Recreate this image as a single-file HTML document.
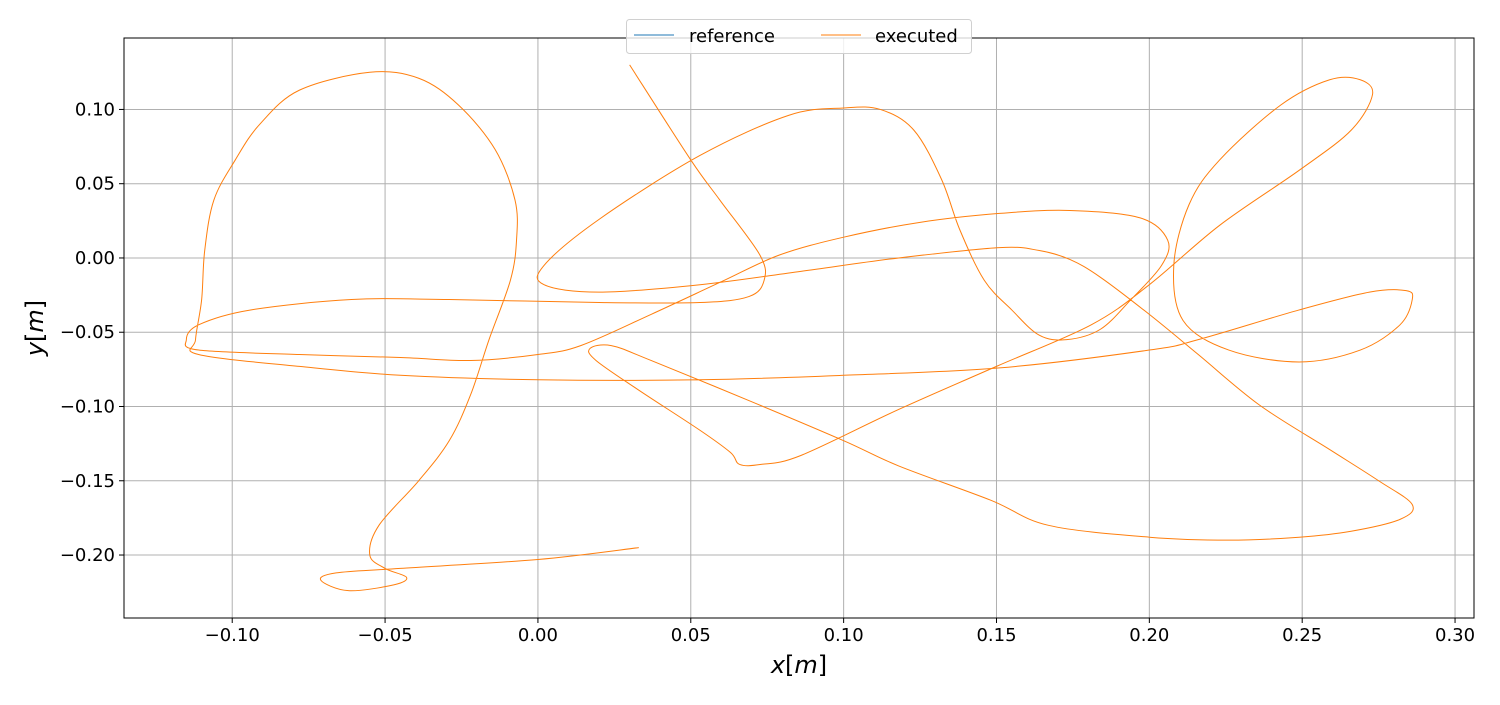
<!DOCTYPE html>
<html><head><meta charset="utf-8"><style>
body{margin:0;background:#fff;}
svg text{font-family:"DejaVu Sans","Liberation Sans",sans-serif;}
</style></head><body>
<svg id="chart" width="1500" height="700" xmlns="http://www.w3.org/2000/svg"></svg>
<script>
const xTicks=[-0.10,-0.05,0.00,0.05,0.10,0.15,0.20,0.25,0.30];
const yTicks=[0.10,0.05,0.00,-0.05,-0.10,-0.15,-0.20];
const xTickLabels=["−0.10","−0.05","0.00","0.05","0.10","0.15","0.20","0.25","0.30"];
const yTickLabels=["0.10","0.05","0.00","−0.05","−0.10","−0.15","−0.20"];
const execX=[0.030,0.050,0.0595,0.0726,0.074,0.069,0.053,0.020,-0.029,-0.061,-0.094,-0.111,-0.115,-0.111,-0.078,-0.045,-0.022,0,0.014,0.037,0.060,0.079,0.100,0.125,0.151,0.174,0.197,0.206,0.204,0.194,0.184,0.173,0.164,0.155,0.146,0.138,0.132,0.123,0.112,0.100,0.082,0.053,0.020,0.002,0.002,0.020,0.053,0.086,0.118,0.151,0.164,0.174,0.184,0.200,0.216,0.236,0.259,0.275,0.286,0.282,0.266,0.249,0.226,0.200,0.167,0.148,0.118,0.100,0.069,0.037,0.024,0.017,0.019,0.033,0.053,0.063,0.066,0.073,0.086,0.118,0.150,0.181,0.200,0.223,0.249,0.266,0.273,0.269,0.259,0.243,0.223,0.213,0.208,0.211,0.226,0.249,0.269,0.282,0.286,0.284,0.272,0.249,0.216,0.200,0.151,0.100,0.053,0,-0.045,-0.078,-0.111,-0.112,-0.110,-0.109,-0.106,-0.099,-0.091,-0.078,-0.055,-0.039,-0.026,-0.014,-0.0075,-0.007,-0.009,-0.016,-0.022,-0.029,-0.039,-0.052,-0.055,-0.050,-0.043,-0.047,-0.062,-0.071,-0.066,-0.045,0,0.033];
const execY=[0.130,0.066,0.039,0.002,-0.015,-0.026,-0.030,-0.030,-0.028,-0.028,-0.035,-0.045,-0.055,-0.062,-0.065,-0.067,-0.069,-0.065,-0.059,-0.038,-0.016,0.002,0.014,0.024,0.030,0.032,0.027,0.012,-0.005,-0.028,-0.048,-0.055,-0.052,-0.035,-0.015,0.019,0.053,0.086,0.100,0.101,0.096,0.069,0.026,-0.005,-0.018,-0.023,-0.018,-0.009,0,0.007,0.005,-0.001,-0.013,-0.038,-0.065,-0.099,-0.129,-0.150,-0.166,-0.176,-0.184,-0.188,-0.190,-0.188,-0.180,-0.163,-0.140,-0.123,-0.096,-0.069,-0.059,-0.061,-0.069,-0.089,-0.116,-0.131,-0.139,-0.139,-0.133,-0.102,-0.073,-0.045,-0.018,0.022,0.059,0.086,0.110,0.120,0.120,0.103,0.066,0.036,-0.005,-0.042,-0.062,-0.070,-0.062,-0.045,-0.028,-0.022,-0.023,-0.035,-0.055,-0.062,-0.074,-0.079,-0.082,-0.082,-0.079,-0.073,-0.065,-0.055,-0.028,0.005,0.039,0.066,0.090,0.113,0.125,0.121,0.103,0.073,0.039,0.012,-0.015,-0.055,-0.092,-0.123,-0.150,-0.180,-0.200,-0.209,-0.215,-0.220,-0.224,-0.217,-0.212,-0.209,-0.203,-0.195];
const L=124,R=1474,T=38,B=618;
const xMin=-0.1354,xMax=0.3062,yMin=-0.2424,yMax=0.1481;
const sx=v=>L+(v-xMin)/(xMax-xMin)*(R-L);
const sy=v=>B-(v-yMin)/(yMax-yMin)*(B-T);
const svg=document.getElementById('chart');
const NS="http://www.w3.org/2000/svg";
function mk(tag,attrs,parent){const e=document.createElementNS(NS,tag);for(const k in attrs)e.setAttribute(k,attrs[k]);(parent||svg).appendChild(e);return e;}
xTicks.forEach((t,i)=>{const x=sx(t);
 const g=mk('line',{x1:x,x2:x,y1:T,y2:B,stroke:'#b0b0b0','stroke-width':1});
 
 
 mk('line',{x1:x,x2:x,y1:B,y2:B+5,stroke:'#000'});
 const tx=mk('text',{x:x,y:B+23,'text-anchor':'middle','font-size':18});tx.textContent=xTickLabels[i];
 
 
});
yTicks.forEach((t,i)=>{const y=sy(t);
 const g=mk('line',{x1:L,x2:R,y1:y,y2:y,stroke:'#b0b0b0','stroke-width':1});
 
 
 mk('line',{x1:L-5,x2:L,y1:y,y2:y,stroke:'#000'});
 const tx=mk('text',{x:L-9,y:y+6,'text-anchor':'end','font-size':18});tx.textContent=yTickLabels[i];
 
 
});
const pts=execX.map((v,i)=>[sx(v),sy(execY[i])]);
let d=`M${pts[0][0]},${pts[0][1]}`;
for(let i=0;i<pts.length-1;i++){const p0=pts[Math.max(0,i-1)],p1=pts[i],p2=pts[i+1],p3=pts[Math.min(pts.length-1,i+2)];
 d+=` C${p1[0]+(p2[0]-p0[0])/6},${p1[1]+(p2[1]-p0[1])/6} ${p2[0]-(p3[0]-p1[0])/6},${p2[1]-(p3[1]-p1[1])/6} ${p2[0]},${p2[1]}`;}
const path=mk('path',{d:d,fill:'none',stroke:'#ff7f0e','stroke-width':1});


const frame=mk('rect',{x:L,y:T,width:R-L,height:B-T,fill:'none',stroke:'#000','stroke-width':1});


const xl=mk('text',{x:(L+R)/2,y:673,'text-anchor':'middle','font-size':24});
xl.innerHTML='<tspan font-style="italic">x</tspan>[<tspan font-style="italic">m</tspan>]';


const yl=mk('text',{x:0,y:0,'text-anchor':'middle','font-size':24,transform:`translate(43,${(T+B)/2}) rotate(-90)`});
yl.innerHTML='<tspan font-style="italic">y</tspan>[<tspan font-style="italic">m</tspan>]';


const lg=mk('g',{});


mk('rect',{x:626.5,y:19.5,width:345,height:34,rx:3,fill:'#fff','fill-opacity':0.8,stroke:'#d0d0d0'},lg);
const e1=mk('g',{},lg);


mk('line',{x1:634,x2:674,y1:35,y2:35,stroke:'#1f77b4','stroke-width':1},e1);
const t1=mk('text',{x:689,y:42,'font-size':18},e1);t1.textContent='reference';
const e2=mk('g',{},lg);


mk('line',{x1:821,x2:861,y1:35,y2:35,stroke:'#ff7f0e','stroke-width':1},e2);
const t2=mk('text',{x:875,y:42,'font-size':18},e2);t2.textContent='executed';
</script>
</body></html>
